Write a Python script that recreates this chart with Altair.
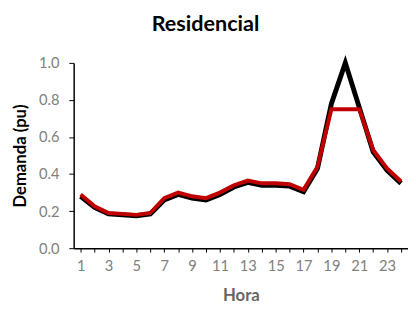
import altair as alt
import pandas as pd

hours = list(range(1, 25))
original = [0.28, 0.22, 0.185, 0.18, 0.175, 0.185, 0.26, 0.29, 0.27, 0.26, 0.29, 0.33, 0.355, 0.34, 0.34, 0.335, 0.305, 0.43, 0.78, 1.0, 0.76, 0.52, 0.42, 0.35]
modified = [0.29, 0.226, 0.19, 0.185, 0.18, 0.19, 0.27, 0.30, 0.28, 0.27, 0.30, 0.34, 0.365, 0.35, 0.35, 0.345, 0.315, 0.44, 0.75, 0.75, 0.75, 0.53, 0.43, 0.36]
tick_values = hours

df_o = pd.DataFrame({"Hora": hours, "Demanda": original})
df_m = pd.DataFrame({"Hora": hours, "Demanda": modified})

x = alt.X("Hora:Q",
          scale=alt.Scale(domain=[0.5, 24.5], nice=False, zero=False),
          axis=alt.Axis(title="Hora", values=tick_values, grid=False,
                        labelExpr="datum.value % 2 == 1 ? datum.label : ''",
                        labelFont="Lato", labelFontSize=15, labelColor="#808080",
                        titleFont="Lato", titleFontSize=17, titleFontWeight="bold", titleColor="#666666",
                        domainColor="black", domainWidth=1.5, tickColor="black", tickSize=4,
                        labelPadding=7, titlePadding=14, labelFlush=False))
y = alt.Y("Demanda:Q",
          scale=alt.Scale(domain=[0, 1], nice=False),
          axis=alt.Axis(title="Demanda (pu)", values=[0, 0.2, 0.4, 0.6, 0.8, 1.0], format=".1f", grid=False,
                        labelFont="Lato", labelFontSize=15, labelColor="#808080",
                        titleFont="Lato", titleFontSize=17, titleFontWeight="bold", titleColor="black",
                        domainColor="black", domainWidth=1.5, tickColor="black", tickSize=5,
                        labelPadding=10, titlePadding=9))

black = alt.Chart(df_o).mark_line(color="black", strokeWidth=5).encode(x=x, y=y)
red = alt.Chart(df_m).mark_line(color="#C00000", strokeWidth=4).encode(x=x, y=y)

chart = alt.layer(black, red).properties(
    width=341, height=189,
    title=alt.TitleParams("Residencial", font="Lato", fontSize=22, fontWeight="bold",
                          color="black", anchor="middle", dx=-36, offset=18),
    autosize=alt.AutoSizeParams(type="none"),
    padding={"left": 67, "top": 53, "right": 0, "bottom": 57},
).configure_view(stroke=None)

chart.save("out.html", embed_options={"renderer": "svg", "actions": False})
